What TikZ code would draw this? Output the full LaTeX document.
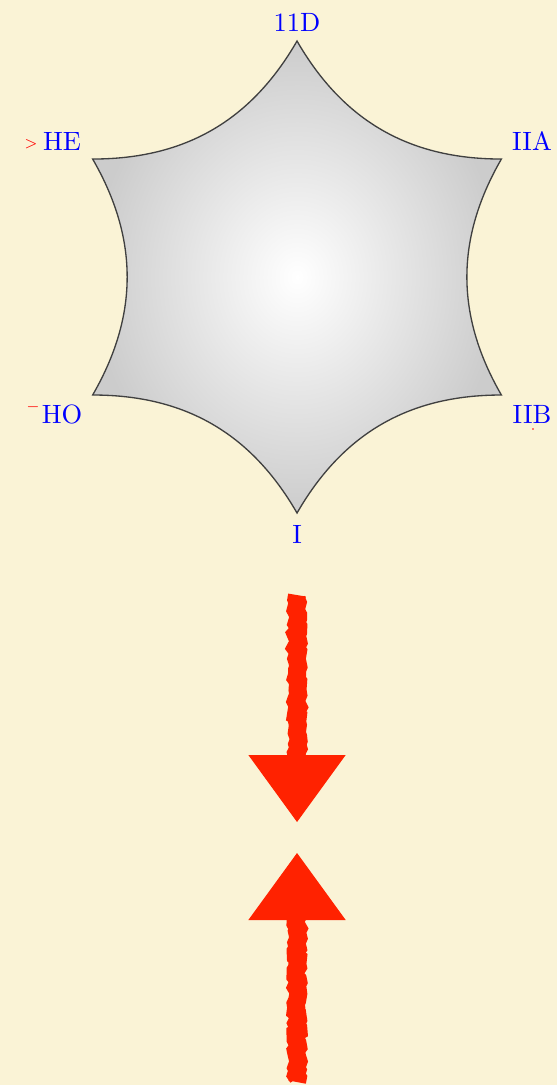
\documentclass[tikz,border=0pt]{standalone}
\usetikzlibrary{arrows.meta,decorations.pathmorphing}
\definecolor{bgcream}{RGB}{250,243,214}
\definecolor{arrowred}{RGB}{255,34,0}
\tikzset{
  vlabel/.style={text=blue, inner sep=1pt},
  redmark/.style={text=red, inner sep=0pt, font=\tiny},
  roughShaft/.style={draw=arrowred, line width=6.8pt,
    decorate, decoration={random steps, segment length=1.5pt, amplitude=0.6pt}},
  headTip/.style={draw=arrowred, line width=0.4pt,
    -{Triangle[length=0.89cm,width=1.29cm]}},
}
\begin{document}
\begin{tikzpicture}

% background
\fill[bgcream] (-3.946,-10.734) rectangle (3.454,3.680);
\useasboundingbox (-3.946,-10.734) rectangle (3.454,3.680);

% corners of the star
\foreach \n/\a in {top/90,ur/30,lr/-30,bot/-90,ll/-150,ul/150}
  \coordinate (\n) at (\a:3.135);

% concave hexagon
\shade[inner color=white, outer color=gray!40, draw=black!75, line width=0.5pt]
  (top) to[bend right=30] (ur) to[bend right=30] (lr) to[bend right=30] (bot)
  to[bend right=30] (ll) to[bend right=30] (ul) to[bend right=30] (top) -- cycle;

% corner labels
\foreach \n/\x/\y/\t in {lTop/0/3.388/11D, lUR/3.122/1.807/IIA, lLR/3.122/-1.820/IIB,
    lBot/0/-3.414/I, lLL/-3.122/-1.820/HO, lUL/-3.122/1.807/HE}
  \node[vlabel] (\n) at (\x,\y) {\t};

% small red marks
\node[redmark] (mUL) at (-3.534,1.767) {$>$};
\node[redmark] (mLL) at (-3.507,-1.727) {$-$};
\fill[red] (3.135,-2.019) circle (0.012);

% arrows
\coordinate (downStart) at (0,-4.225);
\coordinate (downBase) at (0,-6.300);
\coordinate (downEnd) at (0,-7.240);
\coordinate (upStart) at (0,-10.695);
\coordinate (upBase) at (0,-8.592);
\coordinate (upEnd) at (0,-7.652);
\draw[roughShaft] (downStart) -- ([yshift=-0.35cm]downBase);
\draw[headTip] (downBase) -- (downEnd);
\draw[roughShaft] (upStart) -- ([yshift=0.35cm]upBase);
\draw[headTip] (upBase) -- (upEnd);

\end{tikzpicture}
\end{document}
